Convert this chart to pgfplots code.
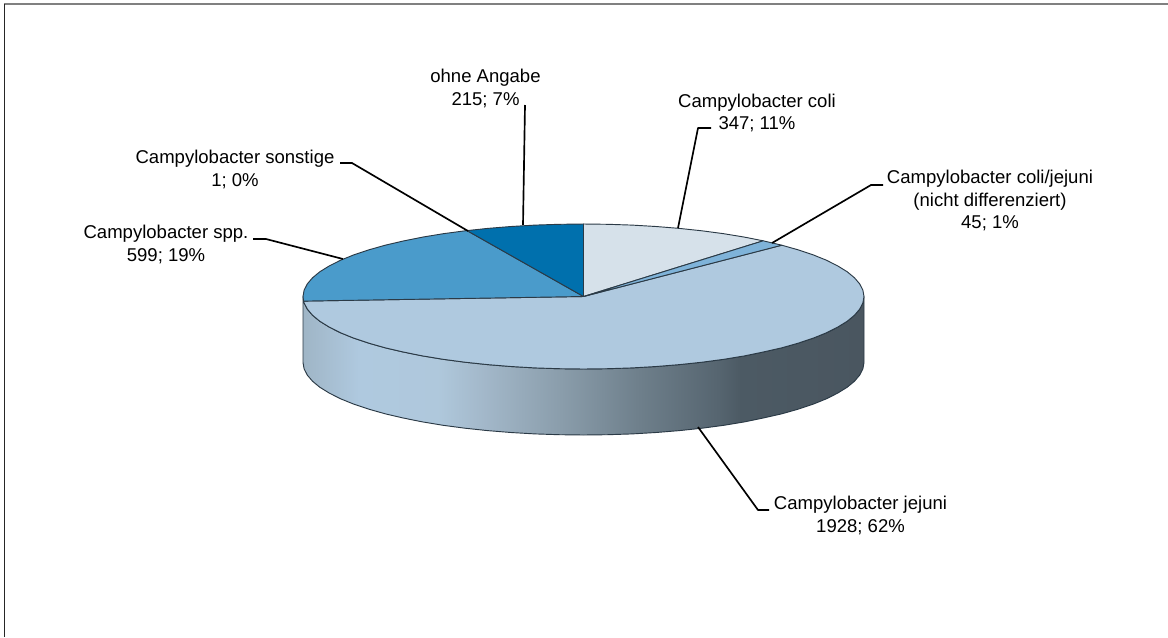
\documentclass[border=0pt]{standalone}
\usepackage{fontspec}
\setmainfont{Liberation Sans}
\usepackage{pgfplots}
\pgfplotsset{compat=1.18}

\definecolor{cColi}{HTML}{D6E1EA}
\definecolor{cColiJej}{HTML}{7FB3D9}
\definecolor{cJejuni}{HTML}{AFC9DF}
\definecolor{cSpp}{HTML}{4A9BCB}
\definecolor{cOhne}{HTML}{0070AD}
\definecolor{edge}{HTML}{2B3A46}
\definecolor{w0}{HTML}{9FB5C6}
\definecolor{w1}{HTML}{AFC9DF}
\definecolor{w2}{HTML}{AFC8DC}
\definecolor{w3}{HTML}{A3B8CA}
\definecolor{w4}{HTML}{8A9DAB}
\definecolor{w5}{HTML}{6E7F8B}
\definecolor{w6}{HTML}{566570}
\definecolor{w7}{HTML}{4C5A64}
\definecolor{w8}{HTML}{4A5660}

% side wall of the cake, stops at 25bp..75bp span the path width
\pgfdeclarehorizontalshading{wall}{100bp}{
  color(0bp)=(w0);
  color(25bp)=(w0);
  color(30bp)=(w1);
  color(37bp)=(w2);
  color(41bp)=(w3);
  color(48bp)=(w4);
  color(55bp)=(w5);
  color(62bp)=(w6);
  color(64bp)=(w7);
  color(75bp)=(w8);
  color(100bp)=(w8)
}
\tikzset{lab/.style={align=center, inner sep=0pt, font=\fontsize{13.9}{16.6}\selectfont}}

\begin{document}
\begin{tikzpicture}
\useasboundingbox (0,0) rectangle (876pt,477.75pt);
\begin{axis}[
  at={(0,0)},
  anchor=south west,
  width=876pt,
  height=477.75pt,
  scale only axis,
  hide axis,
  xmin=0, xmax=1168,
  ymin=0, ymax=637,
  y dir=reverse,
  every axis plot/.append style={line join=round},
]
% frame, only top and left are there
\addplot[draw=gray, line width=1.6pt] coordinates {(4,4) (1168,4)};
\addplot[draw=black!85, line width=1.1pt] coordinates {(4.5,4) (4.5,637)};

% wall
\addplot[shade, shading=wall, draw=edge, line width=0.7pt] coordinates {
  (864.0,296.5) (862.9,302.8) (859.7,309.1) (854.4,315.3) (847.1,321.3) (837.7,327.1)
  (826.4,332.8) (813.3,338.1) (798.4,343.1) (781.8,347.8) (763.2,352.0) (744.4,355.9)
  (723.8,359.3) (702.0,362.2) (679.4,364.6) (656.1,366.5) (632.2,367.9) (608.0,368.7)
  (583.5,369.0) (559.0,368.7) (534.8,367.9) (510.9,366.5) (487.6,364.6) (465.0,362.2)
  (443.2,359.3) (422.6,355.9) (403.2,352.0) (385.2,347.8) (368.6,343.1) (353.7,338.1)
  (340.6,332.8) (329.3,327.1) (319.9,321.3) (312.6,315.3) (307.3,309.1) (304.1,302.8)
  (303.0,296.5)
  (303.0,362.5) (304.1,368.8) (307.3,375.1) (312.6,381.3) (319.9,387.3) (329.3,393.1)
  (340.6,398.8) (353.7,404.1) (368.6,409.1) (385.2,413.8) (403.2,418.0) (422.6,421.9)
  (443.2,425.3) (465.0,428.2) (487.6,430.6) (510.9,432.5) (534.8,433.9) (559.0,434.7)
  (583.5,435.0) (608.0,434.7) (632.2,433.9) (656.1,432.5) (679.4,430.6) (702.0,428.2)
  (723.8,425.3) (744.4,421.9) (763.2,418.0) (781.8,413.8) (798.4,409.1) (813.3,404.1)
  (826.4,398.8) (837.7,393.1) (847.1,387.3) (854.4,381.3) (859.7,375.1) (862.9,368.8)
  (864.0,362.5)
} --cycle;

% Campylobacter jejuni
\addplot[fill=cJejuni, draw=edge, line width=0.7pt] coordinates {
  (583.5,296.5) (781.8,245.2) (798.4,249.9) (813.3,254.9) (826.4,260.2) (837.7,265.9)
  (847.1,271.7) (854.4,277.7) (859.7,283.9) (862.9,290.2) (864.0,296.5)
  (862.9,302.8) (859.7,309.1) (854.4,315.3) (847.1,321.3) (837.7,327.1)
  (826.4,332.8) (813.3,338.1) (798.4,343.1) (781.8,347.8) (763.2,352.0) (744.4,355.9)
  (723.8,359.3) (702.0,362.2) (679.4,364.6) (656.1,366.5) (632.2,367.9) (608.0,368.7)
  (583.5,369.0) (559.0,368.7) (534.8,367.9) (510.9,366.5) (487.6,364.6) (465.0,362.2)
  (443.2,359.3) (422.6,355.9) (403.2,352.0) (385.2,347.8) (368.6,343.1) (353.7,338.1)
  (340.6,332.8) (329.3,327.1) (319.9,321.3) (312.6,315.3) (307.3,309.1) (304.1,302.8)
  (303.6,301.1)
} --cycle;

% Campylobacter spp.
\addplot[fill=cSpp, draw=edge, line width=0.7pt] coordinates {
  (583.5,296.5) (303.6,301.1) (303.0,296.5) (304.1,290.2) (307.3,283.9) (312.6,277.7)
  (319.9,271.7) (329.3,265.9) (340.6,260.2) (353.7,254.9) (368.6,249.9) (385.2,245.2)
  (403.2,241.0) (422.6,237.1) (443.2,233.7) (465.0,230.8) (467.0,230.6)
} --cycle;

% ohne Angabe
\addplot[fill=cOhne, draw=edge, line width=0.7pt] coordinates {
  (583.5,296.5) (467.0,230.6) (487.6,228.4) (510.9,226.5) (534.8,225.1) (559.0,224.3)
  (583.5,224.0)
} --cycle;

% Campylobacter coli
\addplot[fill=cColi, draw=edge, line width=0.7pt] coordinates {
  (583.5,296.5) (583.5,224.0) (608.0,224.3) (632.2,225.1) (656.1,226.5) (679.4,228.4)
  (702.0,230.8) (723.8,233.7) (744.4,237.1) (763.2,240.8)
} --cycle;

% Campylobacter coli/jejuni
\addplot[fill=cColiJej, draw=edge, line width=0.7pt] coordinates {
  (583.5,296.5) (763.2,240.8) (781.8,245.2)
} --cycle;

% leader lines
\addplot[black, line width=1.25pt] coordinates {(525,105) (523,225)};
\addplot[black, line width=1.25pt] coordinates {(711,128) (698,128) (678,228)};
\addplot[black, line width=1.25pt] coordinates {(883,185) (871,185) (772,243)};
\addplot[black, line width=1.25pt] coordinates {(340,163) (352,163) (468,231)};
\addplot[black, line width=1.25pt] coordinates {(253,239) (266,239) (343,259)};
\addplot[black, line width=1.25pt] coordinates {(769,510) (758,510) (698,427)};

\node[lab] at (axis cs:485.5,88.5) {ohne Angabe\\215; 7\%};
\node[lab] at (axis cs:757,113) {Campylobacter coli\\347; 11\%};
\node[lab] at (axis cs:990,200.5) {Campylobacter coli/jejuni\\(nicht differenziert)\\45; 1\%};
\node[lab] at (axis cs:860.5,515.5) {Campylobacter jejuni\\1928; 62\%};
\node[lab] at (axis cs:235,169.5) {Campylobacter sonstige\\1; 0\%};
\node[lab] at (axis cs:166,244.5) {Campylobacter spp.\\599; 19\%};
\end{axis}
\end{tikzpicture}
\end{document}
